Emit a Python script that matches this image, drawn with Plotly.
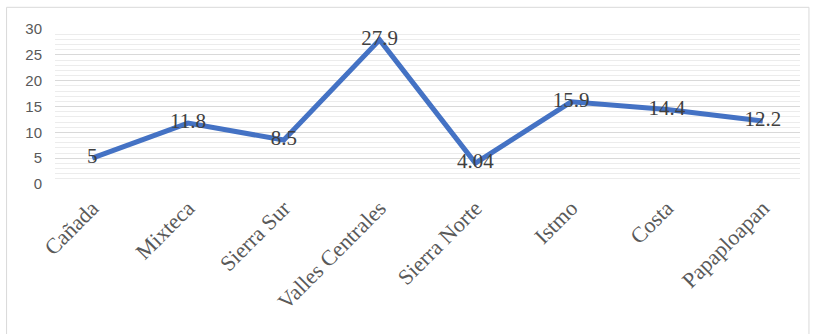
import plotly.graph_objects as go

regions = ["Cañada", "Mixteca", "Sierra Sur", "Valles Centrales", "Sierra Norte", "Istmo", "Costa", "Papaploapan"]
values = [5, 11.8, 8.5, 27.9, 4.04, 15.9, 14.4, 12.2]
labels = ["5", "11.8", "8.5", "27.9", "4.04", "15.9", "14.4", "12.2"]
y_ticks = [0, 5, 10, 15, 20, 25, 30]

fig = go.Figure()
fig.add_trace(go.Scatter(
    x=regions, y=values, mode="lines+text", text=labels,
    textposition="middle center",
    textfont=dict(family="Liberation Serif", size=21, color="#404040"),
    line=dict(color="#4472C4", width=5),
    hoverinfo="skip", cliponaxis=False,
))

fig.update_layout(
    width=817, height=334,
    margin=dict(l=55, r=17, t=29, b=150),
    paper_bgcolor="white", plot_bgcolor="white",
    showlegend=False,
    xaxis=dict(
        showgrid=False, zeroline=False, showline=False,
        tickangle=-45, tickfont=dict(family="Liberation Serif", size=22, color="#595959"),
        ticks="", ticklen=0, ticklabelstandoff=6,
    ),
    yaxis=dict(
        range=[0, 30], tickvals=y_ticks, showgrid=True, gridcolor="#d9d9d9", gridwidth=1,
        zeroline=False, showline=False,
        tickfont=dict(family="Liberation Sans", size=15, color="#595959"),
        minor=dict(dtick=1, showgrid=True, gridcolor="#ececec", gridwidth=1),
        ticks="", ticklabelstandoff=12,
    ),
    shapes=[dict(type="rect", xref="paper", yref="paper", x0=-0.065, x1=1.012, y0=-1.44, y1=1.14,
                 line=dict(color="#d9d9d9", width=1), layer="below")],
)

fig.write_html("out.html")
